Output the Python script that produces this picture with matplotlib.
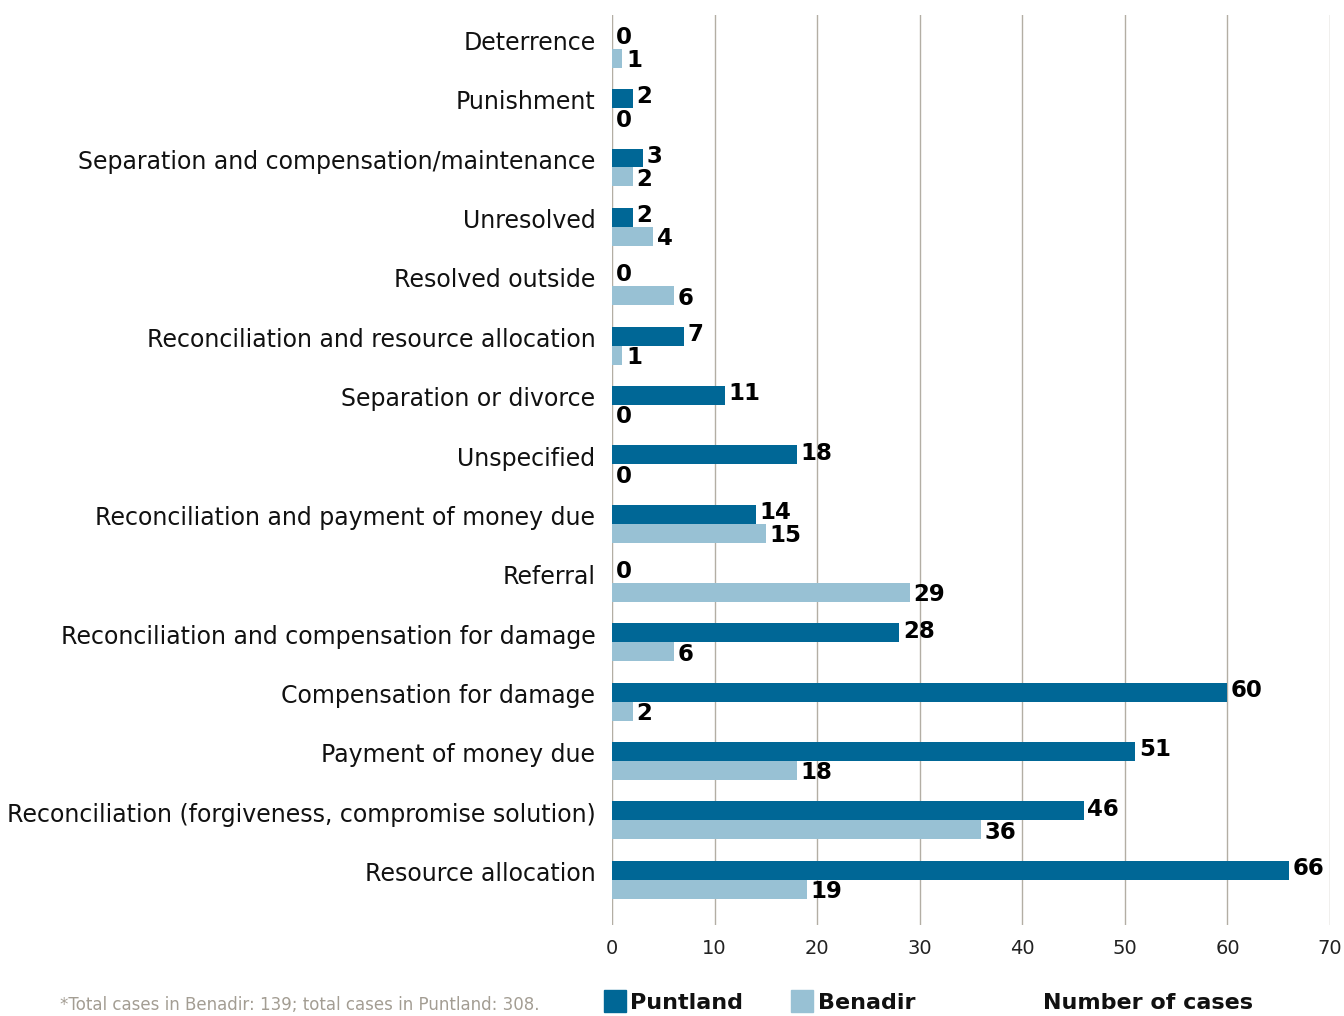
import matplotlib
matplotlib.use("Agg")
import matplotlib.pyplot as plt
from matplotlib.patches import Rectangle

plt.rcParams["font.family"] = ["DejaVu Sans"]

categories = [
    "Deterrence",
    "Punishment",
    "Separation and compensation/maintenance",
    "Unresolved",
    "Resolved outside",
    "Reconciliation and resource allocation",
    "Separation or divorce",
    "Unspecified",
    "Reconciliation and payment of money due",
    "Referral",
    "Reconciliation and compensation for damage",
    "Compensation for damage",
    "Payment of money due",
    "Reconciliation (forgiveness, compromise solution)",
    "Resource allocation",
]
puntland = [0, 2, 3, 2, 0, 7, 11, 18, 14, 0, 28, 60, 51, 46, 66]
benadir = [1, 0, 2, 4, 6, 1, 0, 0, 15, 29, 6, 2, 18, 36, 19]
xticks = [0, 10, 20, 30, 40, 50, 60, 70]

C_PUNT = "#006796"
C_BEN = "#98c1d4"
GRID = "#b3aea4"

fig = plt.figure(figsize=(13.44, 10.16), dpi=100)
ax = fig.add_axes([0.4554, 0.0896, 0.5342, 0.8957])

h = 0.32
for i, (p, b) in enumerate(zip(puntland, benadir)):
    ax.barh(i - h / 2, p, height=h, color=C_PUNT, zorder=3)
    ax.barh(i + h / 2, b, height=h, color=C_BEN, zorder=3)
    ax.text(p + 0.35, i - h / 2 - 0.03, str(p), ha="left", va="center",
            fontsize=16.5, fontweight="bold", color="black", zorder=4)
    ax.text(b + 0.35, i + h / 2 + 0.04, str(b), ha="left", va="center",
            fontsize=16.5, fontweight="bold", color="black", zorder=4)

ax.set_xlim(0, 70)
ax.set_ylim(14.76, -0.57)
ax.set_xticks(xticks)
ax.set_xticklabels([str(t) for t in xticks], fontsize=14, color="#222222")
# category names sit a little above the middle of each pair of bars
ax.set_yticks([i - 0.14 for i in range(len(categories))])
ax.set_yticklabels(categories, fontsize=17, color="#111111")
ax.tick_params(axis="y", length=0, pad=12)
ax.tick_params(axis="x", length=0, pad=10)
for s in ax.spines.values():
    s.set_visible(False)
ax.grid(axis="x", color=GRID, linewidth=1.0, zorder=0)
ax.grid(axis="y", visible=False)
ax.axvline(0, color="#d0ccc4", linewidth=1.5, zorder=1)

# legend row along the bottom
fig.patches.append(Rectangle((604 / 1344, 4 / 1016), 22 / 1344, 22 / 1016,
                             transform=fig.transFigure, color=C_PUNT))
fig.patches.append(Rectangle((791 / 1344, 4 / 1016), 22 / 1344, 22 / 1016,
                             transform=fig.transFigure, color=C_BEN))
fig.text(630 / 1344, 13 / 1016, "Puntland", fontsize=16, fontweight="bold",
         color="#111111", va="center")
fig.text(818 / 1344, 13 / 1016, "Benadir", fontsize=16, fontweight="bold",
         color="#111111", va="center")
fig.text(1043 / 1344, 13 / 1016, "Number of cases", fontsize=16, fontweight="bold",
         color="#111111", va="center")
fig.text(60 / 1344, 11 / 1016,
         "*Total cases in Benadir: 139; total cases in Puntland: 308.",
         fontsize=12, color="#a39d93", va="center")

fig.savefig("out.png", dpi=100)
